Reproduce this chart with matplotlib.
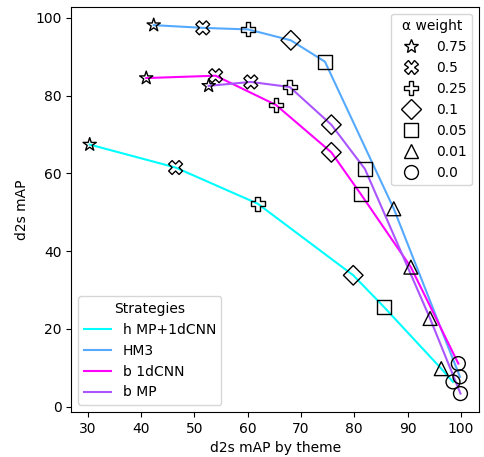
import matplotlib
matplotlib.use("Agg")
import matplotlib.pyplot as plt
from matplotlib.lines import Line2D

alpha_weights = ["0.75", "0.5", "0.25", "0.1", "0.05", "0.01", "0.0"]
markers = ["*", "X", "P", "D", "s", "^", "o"]

strategies = ["h MP+1dCNN", "HM3", "b 1dCNN", "b MP"]
colors = ["#00ffff", "#55aaff", "#ff00ff", "#aa55ff"]

h_mp_1dcnn_x = [30.4, 46.5, 61.9, 79.8, 85.6, 96.3, 98.5]
h_mp_1dcnn_y = [67.4, 61.5, 52.2, 33.8, 25.6, 9.8, 6.4]

hm3_x = [42.4, 51.6, 60.1, 68.1, 74.5, 87.4, 99.8]
hm3_y = [98.1, 97.4, 97.0, 94.2, 88.7, 50.9, 7.7]

b_1dcnn_x = [41.0, 54.0, 65.3, 75.7, 81.2, 90.6, 99.5]
b_1dcnn_y = [84.5, 85.1, 77.6, 65.4, 54.7, 35.9, 11.1]

b_mp_x = [52.7, 60.6, 67.9, 75.7, 82.0, 94.2, 99.9]
b_mp_y = [82.5, 83.5, 82.2, 72.5, 61.1, 22.7, 3.4]

series_x = [h_mp_1dcnn_x, hm3_x, b_1dcnn_x, b_mp_x]
series_y = [h_mp_1dcnn_y, hm3_y, b_1dcnn_y, b_mp_y]

fig = plt.figure(figsize=(4.84, 4.57), dpi=100)
ax = fig.add_axes([0.147, 0.0985, 0.8427, 0.8868])

line_handles = []
for name, c, xs, ys in zip(strategies, colors, series_x, series_y):
    ln, = ax.plot(xs, ys, color=c, lw=1.5, label=name, zorder=2)
    line_handles.append(ln)

for xs, ys in zip(series_x, series_y):
    for xv, yv, m in zip(xs, ys, markers):
        ax.scatter([xv], [yv], marker=m, s=100, facecolors="none",
                   edgecolors="black", linewidths=1, zorder=3)

ax.set_xlabel("d2s mAP by theme")
ax.set_ylabel("d2s mAP")
ax.set_xticks([30, 40, 50, 60, 70, 80, 90, 100])
ax.set_yticks([0, 20, 40, 60, 80, 100])

marker_handles = [Line2D([], [], linestyle="none", marker=m, markersize=10,
                         markerfacecolor="none", markeredgecolor="black",
                         markeredgewidth=1)
                  for m in markers]
leg1 = ax.legend(marker_handles, alpha_weights, title="α weight",
                 loc="upper right")
ax.add_artist(leg1)
ax.legend(line_handles, strategies, title="Strategies", loc="lower left")

fig.savefig("out.png", dpi=100)
